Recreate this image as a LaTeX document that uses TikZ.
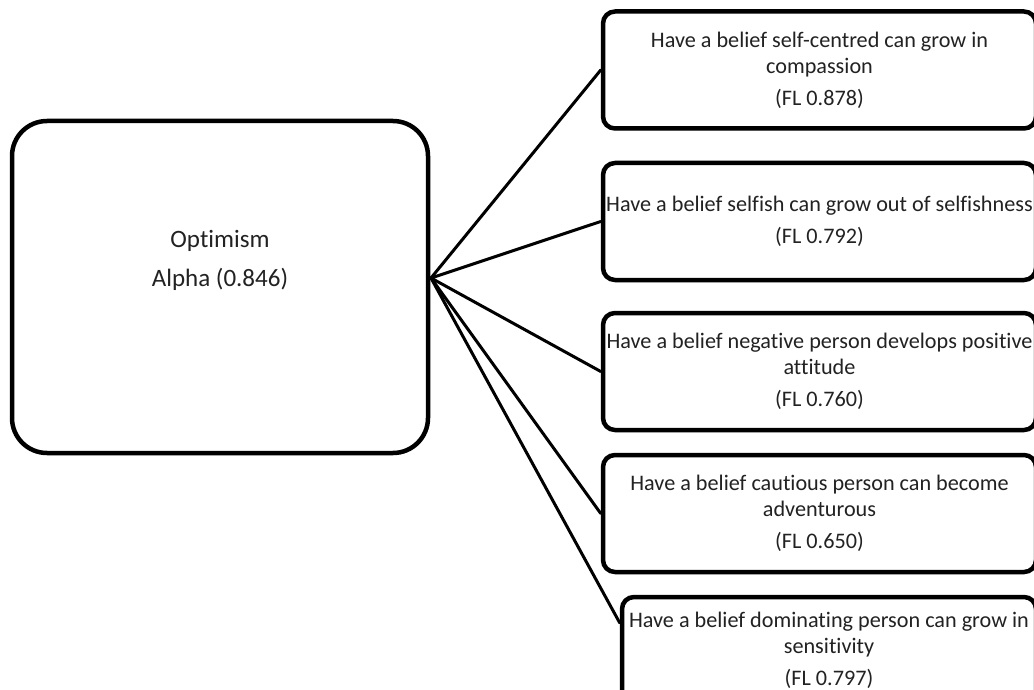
\documentclass[tikz,border=0pt]{standalone}
\usepackage{fontspec}
\setmainfont{Carlito}[Ligatures=NoCommon]
\usetikzlibrary{calc,shadows}
\definecolor{ink}{HTML}{222222}

\tikzset{
  bigbox/.style={draw=black, line width=4.5pt, rounded corners=35pt, fill=white,
    minimum width=416pt, minimum height=332pt, inner sep=0pt,
    drop shadow={shadow xshift=1pt, shadow yshift=-2pt, opacity=0.25}},
  itembox/.style={draw=black, line width=4.5pt, rounded corners=12pt, fill=white,
    minimum height=117pt, inner sep=0pt, align=center, text=ink,
    font=\fontsize{22.2}{26}\selectfont,
    drop shadow={shadow xshift=1pt, shadow yshift=-2pt, opacity=0.25}},
  link/.style={draw=black, line width=3pt, line cap=round}
}

\begin{document}
\begin{tikzpicture}[x=1pt, y=-1pt]
  \useasboundingbox (0,0) rectangle (1034,690);
  \clip (0,0) rectangle (1034,690);
  \fill[white] (0,0) rectangle (1034,690);

  % central construct
  \node[bigbox] (main) at (220,287) {};
  \node[text=ink, align=center, font=\fontsize{25}{30}\selectfont]
    (mainlabel) at (220,260) {Optimism\\[9pt]Alpha (0.846)};
  \coordinate (hub) at (431,278);

  % item boxes
  \node[itembox, minimum width=433pt] (b1) at (819.5,70)
    {Have a belief self-centred can grow in\\compassion\\[6pt](FL 0.878)};
  \node[itembox, minimum width=433pt] (b2) at (819.5,221.5)
    {Have a belief selfish can grow out of selfishness\\[6pt](FL 0.792)};
  \node[itembox, minimum width=433pt] (b3) at (819.5,371.5)
    {Have a belief negative person develops positive\\attitude\\[6pt](FL 0.760)};
  \node[itembox, minimum width=433pt] (b4) at (819.5,513.5)
    {Have a belief cautious person can become\\adventurous\\[6pt](FL 0.650)};
  \node[itembox, minimum width=414pt, minimum height=106pt] (b5) at (829,650)
    {Have a belief dominating person can grow in\\sensitivity\\[6pt](FL 0.797)};
  \coordinate (b5in) at ($(b5.north west)!0.255!(b5.south west)$);

  % connectors from the construct to each item
  \draw[link] (hub) -- (b1.west);
  \draw[link] (hub) -- (b2.west);
  \draw[link] (hub) -- (b3.west);
  \draw[link] (hub) -- (b4.west);
  \draw[link] (hub) -- (b5in);
\end{tikzpicture}
\end{document}
